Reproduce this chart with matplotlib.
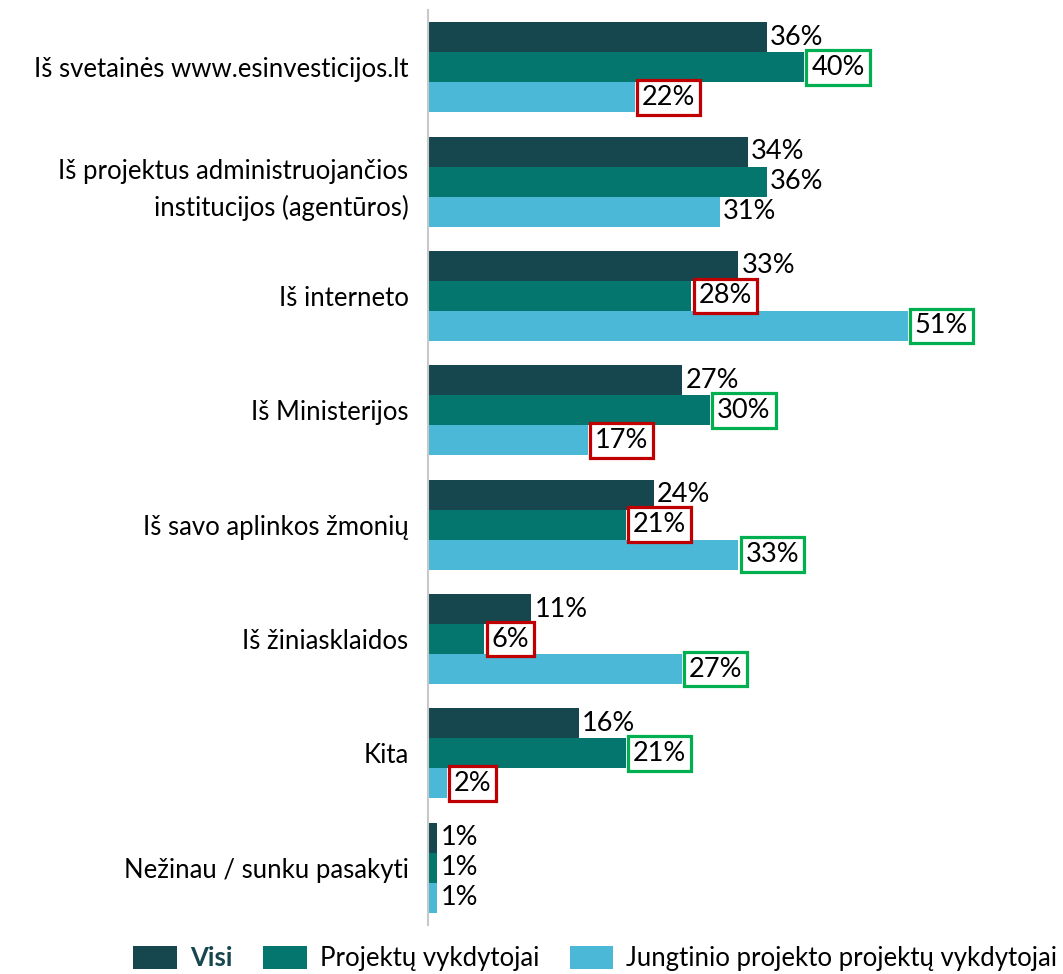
import matplotlib.pyplot as plt
import numpy as np

plt.rcParams['font.family'] = ['Lato', 'DejaVu Sans']

categories = ['Iš svetainės www.esinvesticijos.lt',
              'Iš projektus administruojančios\ninstitucijos (agentūros)',
              'Iš interneto',
              'Iš Ministerijos',
              'Iš savo aplinkos žmonių',
              'Iš žiniasklaidos',
              'Kita',
              'Nežinau / sunku pasakyti']
visi = [36, 34, 33, 27, 24, 11, 16, 1]
projektu = [40, 36, 28, 30, 21, 6, 21, 1]
jungtinio = [22, 31, 51, 17, 33, 27, 2, 1]
series_names = ['Visi', 'Projektų vykdytojai', 'Jungtinio projekto projektų vykdytojai']
# highlight marks: 'g' = green box, 'r' = red box, '' = none
projektu_mark = ['g', '', 'r', 'g', 'r', 'r', 'g', '']
jungtinio_mark = ['r', '', 'g', 'r', 'g', 'g', 'r', '']

colors = ['#16474F', '#04766E', '#4AB8D6']
box_colors = {'g': '#00B050', 'r': '#C00000'}

fig = plt.figure(figsize=(10.63, 9.74), dpi=100)
ax = fig.add_axes([428/1063, 49/974, 1-428/1063, 915/974])

y = np.arange(len(categories))
h = 0.262
series = [visi, projektu, jungtinio]
marks = [[''] * len(categories), projektu_mark, jungtinio_mark]
for k, (vals, mk) in enumerate(zip(series, marks)):
    pos = y + (k - 1) * h
    ax.barh(pos, vals, height=h, color=colors[k], label=series_names[k])
    for p, v, m in zip(pos, vals, mk):
        if m:
            ax.text(v + 0.75, p, '%d%%' % v, va='center', ha='left', fontsize=19.5,
                    bbox=dict(boxstyle='square,pad=0.18', fc='white',
                              ec=box_colors[m], lw=2.3))
        else:
            ax.text(v + 0.35, p, '%d%%' % v, va='center', ha='left', fontsize=19.5)

ax.set_ylim(len(categories) - 0.5, -0.5)
ax.set_xlim(0, 67.5)
ax.set_yticks(y)
ax.set_yticklabels(categories, fontsize=18.5, linespacing=1.55)
ax.tick_params(axis='y', length=0, pad=14)
ax.set_xticks([])
for s in ['top', 'right', 'bottom']:
    ax.spines[s].set_visible(False)
ax.spines['left'].set_color('#C8C8C8')
ax.spines['left'].set_linewidth(1.5)

leg = fig.legend(loc='lower center', bbox_to_anchor=(0.56, -0.021), ncol=3,
                 frameon=False, fontsize=18.5, handlelength=1.7, handleheight=1.0,
                 columnspacing=1.2, handletextpad=0.5)
leg.get_texts()[0].set_fontweight('bold')
leg.get_texts()[0].set_color('#16474F')

fig.savefig('out.png', dpi=100)
